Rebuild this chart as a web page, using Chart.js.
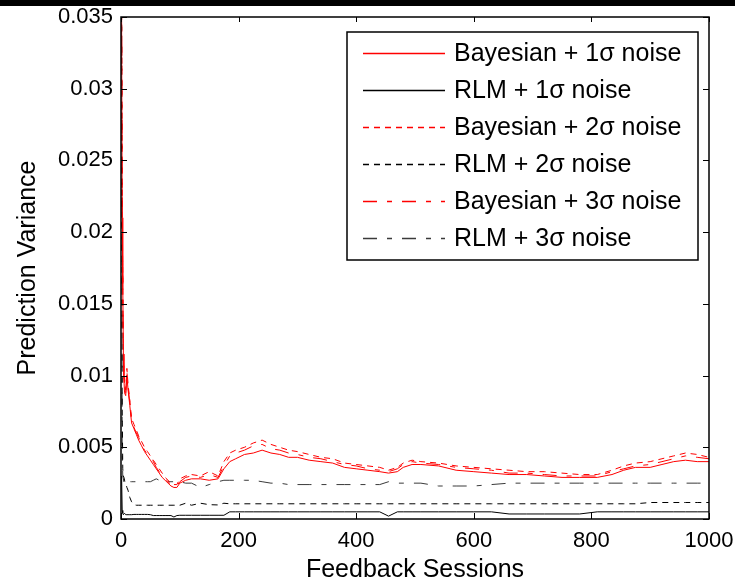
<!DOCTYPE html>
<html lang="en">
<head>
<meta charset="UTF-8">
<title>Prediction Variance vs Feedback Sessions</title>
<script src="https://cdn.jsdelivr.net/npm/chart.js"></script>
<style>
  html, body { margin: 0; padding: 0; background: #fff; }
</style>
</head>
<body>
<canvas id="chart" width="735" height="588"></canvas>
<script>
const sessions = [1, 2, 3, 4, 5, 6, 8, 10, 12, 15,
  18, 22, 26, 30, 35, 40, 45, 50, 55, 60,
  65, 70, 75, 80, 85, 90, 95, 100, 110, 120,
  135, 150, 165, 175, 185, 195, 210, 225, 240, 255,
  270, 285, 300, 320, 340, 360, 380, 400, 420, 440,
  455, 470, 480, 495, 510, 540, 570, 600, 630, 660,
  690, 720, 750, 780, 810, 835, 855, 875, 900, 920,
  940, 960, 980, 1000];

const bayes1 = [0.036, 0.021, 0.0165, 0.0115, 0.0098, 0.0088, 0.0086, 0.0100, 0.0090, 0.0079,
  0.0067, 0.0063, 0.0059, 0.0055, 0.0051, 0.0047, 0.0044, 0.0041, 0.0038, 0.0035,
  0.0032, 0.0029, 0.0027, 0.0025, 0.0023, 0.0022, 0.0022, 0.0025, 0.0027, 0.0028,
  0.0028, 0.0027, 0.0028, 0.0035, 0.0040, 0.0042, 0.0045, 0.0046, 0.0048, 0.0046,
  0.0045, 0.0043, 0.0043, 0.0041, 0.0040, 0.0039, 0.0036, 0.0035, 0.0034, 0.0033,
  0.0032, 0.0033, 0.0036, 0.0038, 0.0038, 0.0037, 0.0034, 0.0033, 0.0032, 0.0031,
  0.0031, 0.0030, 0.0029, 0.0029, 0.0029, 0.0031, 0.0034, 0.0036, 0.0036, 0.0038,
  0.0040, 0.0041, 0.0040, 0.0040];

const rlm1 = [0.0030, 0.0006, 0.0004, 0.0003, 0.0003, 0.0004, 0.0003, 0.0003, 0.0003, 0.0003,
  0.0003, 0.00032, 0.00032, 0.00032, 0.00032, 0.00032, 0.00032, 0.0003, 0.00024, 0.00024,
  0.00024, 0.00024, 0.00024, 0.00024, 0.00024, 0.00014, 0.00024, 0.00026, 0.00026, 0.00026,
  0.00026, 0.00026, 0.00026, 0.00026, 0.0005, 0.0005, 0.0005, 0.0005, 0.0005, 0.0005,
  0.0005, 0.0005, 0.0005, 0.0005, 0.0005, 0.0005, 0.0005, 0.0005, 0.0005, 0.0005,
  0.0002, 0.0005, 0.0005, 0.0005, 0.0005, 0.0005, 0.0005, 0.0005, 0.0005, 0.00035,
  0.00035, 0.00035, 0.00035, 0.00035, 0.0005, 0.0005, 0.0005, 0.0005, 0.0005, 0.0005,
  0.0005, 0.0005, 0.0005, 0.0005];

const bayes2 = [0.036, 0.022, 0.017, 0.012, 0.0105, 0.0092, 0.0090, 0.0105, 0.0094, 0.0083,
  0.0070, 0.0066, 0.0062, 0.0058, 0.0054, 0.0050, 0.0047, 0.0044, 0.0041, 0.0038,
  0.0035, 0.0032, 0.0029, 0.0027, 0.0025, 0.0024, 0.0024, 0.0028, 0.0030, 0.0031,
  0.0030, 0.0033, 0.0030, 0.0040, 0.0046, 0.0048, 0.0050, 0.0053, 0.0055, 0.0052,
  0.0050, 0.0048, 0.0047, 0.0045, 0.0043, 0.0042, 0.0039, 0.0038, 0.0037, 0.0036,
  0.0034, 0.0036, 0.0039, 0.0041, 0.0040, 0.0039, 0.0037, 0.0036, 0.0035, 0.0034,
  0.0033, 0.0033, 0.0032, 0.0031, 0.0031, 0.0034, 0.0037, 0.0039, 0.0040, 0.0042,
  0.0044, 0.0046, 0.0045, 0.0043];

const rlm2 = [0.036, 0.008, 0.0035, 0.0030, 0.0029, 0.0027, 0.0025, 0.0022, 0.0020, 0.0015,
  0.0012, 0.0010, 0.00096, 0.00096, 0.00096, 0.00096, 0.00096, 0.00096, 0.00096, 0.00096,
  0.00096, 0.00096, 0.00096, 0.00096, 0.00096, 0.00096, 0.00096, 0.00096, 0.0011, 0.00096,
  0.0011, 0.0010, 0.00098, 0.0011, 0.00106, 0.00106, 0.00106, 0.00106, 0.00106, 0.00106,
  0.00106, 0.00106, 0.00106, 0.00106, 0.00106, 0.00106, 0.00106, 0.00106, 0.00106, 0.00106,
  0.00106, 0.00106, 0.00106, 0.00106, 0.00106, 0.00106, 0.00106, 0.00106, 0.00106, 0.00106,
  0.00106, 0.00106, 0.00106, 0.00106, 0.00106, 0.00106, 0.00106, 0.00106, 0.00115, 0.00115,
  0.00115, 0.00115, 0.00115, 0.00115];

const bayes3 = [0.036, 0.0215, 0.0168, 0.0118, 0.0100, 0.0090, 0.0088, 0.0103, 0.0092, 0.0081,
  0.0068, 0.0064, 0.0060, 0.0057, 0.0052, 0.0048, 0.0045, 0.0043, 0.0040, 0.0036,
  0.0033, 0.0030, 0.0028, 0.0026, 0.0024, 0.0023, 0.0023, 0.0026, 0.0029, 0.0030,
  0.0029, 0.0031, 0.0029, 0.0037, 0.0044, 0.0046, 0.0048, 0.0051, 0.0052, 0.0049,
  0.0048, 0.0046, 0.0045, 0.0043, 0.0042, 0.0040, 0.0038, 0.0037, 0.0035, 0.0034,
  0.0033, 0.0035, 0.0038, 0.0040, 0.0039, 0.0038, 0.0036, 0.0035, 0.0034, 0.0032,
  0.0032, 0.0031, 0.0030, 0.0030, 0.0030, 0.0033, 0.0035, 0.0037, 0.0038, 0.0040,
  0.0042, 0.0044, 0.0043, 0.0042];

const rlm3 = [0.036, 0.0048, 0.0030, 0.0028, 0.0026, 0.0029, 0.0027, 0.0026, 0.0026, 0.0026,
  0.0026, 0.0026, 0.0026, 0.0026, 0.0026, 0.0026, 0.0026, 0.0026, 0.0027, 0.0028,
  0.0027, 0.0027, 0.0026, 0.0026, 0.0026, 0.0026, 0.0026, 0.0026, 0.0025, 0.0025,
  0.0022, 0.0024, 0.0026, 0.0027, 0.0027, 0.0027, 0.0027, 0.0027, 0.0026, 0.0025,
  0.0025, 0.0024, 0.0024, 0.0024, 0.0024, 0.0024, 0.0024, 0.0024, 0.0024, 0.0024,
  0.0026, 0.0025, 0.0025, 0.0025, 0.0025, 0.0023, 0.0023, 0.0023, 0.0024, 0.0025,
  0.0025, 0.0025, 0.0025, 0.0025, 0.0025, 0.0025, 0.0025, 0.0025, 0.0025, 0.0025,
  0.0025, 0.0025, 0.0025, 0.0025];

const seriesNames = ['Bayesian + 1σ noise', 'RLM + 1σ noise', 'Bayesian + 2σ noise',
  'RLM + 2σ noise', 'Bayesian + 3σ noise', 'RLM + 3σ noise'];

const xTicks = [0, 200, 400, 600, 800, 1000];
const xTickLabels = ['0', '200', '400', '600', '800', '1000'];
const yTicks = [0, 0.005, 0.01, 0.015, 0.02, 0.025, 0.03, 0.035];
const yTickLabels = ['0', '0.005', '0.01', '0.015', '0.02', '0.025', '0.03', '0.035'];

const FONT = "'Liberation Sans', Arial, sans-serif";
const RED = '#ff0000';
const GREY = '#3a3a3a';
const DASH = [6, 5];
const DASHDOT = [14, 10, 5, 10];
const colors = [RED, '#000', RED, '#000', RED, GREY];
const dashes = [[], [], DASH, DASH, DASHDOT, DASHDOT];

function line(i, data) {
  return {
    label: seriesNames[i], data: data, borderColor: colors[i], borderDash: dashes[i],
    borderWidth: 1, pointRadius: 0, tension: 0, fill: false
  };
}

// white page, frame with inward ticks, legend box and the black strip on top
const decoPlugin = {
  id: 'deco',
  beforeDraw(chart) {
    const c = chart.ctx;
    c.save();
    c.fillStyle = '#fff';
    c.fillRect(0, 0, chart.width, chart.height);
    c.restore();
  },
  afterDatasetsDraw(chart) {
    const c = chart.ctx;
    const a = chart.chartArea;
    const xs = chart.scales.x, ys = chart.scales.y;
    c.save();
    c.strokeStyle = '#000';
    c.lineWidth = 1.5;
    c.setLineDash([]);
    c.strokeRect(a.left, a.top, a.right - a.left, a.bottom - a.top);
    c.lineWidth = 1;
    c.beginPath();
    xTicks.forEach(v => {
      const px = Math.round(xs.getPixelForValue(v)) + 0.5;
      c.moveTo(px, a.bottom); c.lineTo(px, a.bottom - 6);
      c.moveTo(px, a.top); c.lineTo(px, a.top + 5);
    });
    yTicks.forEach(v => {
      const py = Math.round(ys.getPixelForValue(v)) + 0.5;
      c.moveTo(a.left, py); c.lineTo(a.left + 6, py);
      c.moveTo(a.right, py); c.lineTo(a.right - 6, py);
    });
    c.stroke();

    // legend
    const bx = a.right - 362, by = a.top + 15, bw = 351, bh = 228;
    c.fillStyle = '#fff';
    c.fillRect(bx, by, bw, bh);
    c.lineWidth = 1.5;
    c.strokeStyle = '#000';
    c.strokeRect(bx, by, bw, bh);
    c.font = '25px ' + FONT;
    c.textBaseline = 'middle';
    c.textAlign = 'left';
    seriesNames.forEach((name, i) => {
      const yy = Math.round(by + 21 + i * 37) + 0.5;
      c.beginPath();
      c.lineWidth = 1.5;
      c.strokeStyle = colors[i];
      c.setLineDash(dashes[i]);
      c.moveTo(bx + 16, yy);
      c.lineTo(bx + 98, yy);
      c.stroke();
      c.setLineDash([]);
      c.fillStyle = '#000';
      c.fillText(name, bx + 107, yy + 1);
    });

    c.fillStyle = '#000';
    c.fillRect(0, 0, chart.width, 6);
    c.restore();
  }
};

new Chart(document.getElementById('chart').getContext('2d'), {
  type: 'line',
  data: {
    labels: sessions,
    datasets: [
      line(0, bayes1),
      line(1, rlm1),
      line(2, bayes2),
      line(3, rlm2),
      line(4, bayes3),
      line(5, rlm3)
    ]
  },
  options: {
    responsive: false,
    animation: false,
    devicePixelRatio: 1,
    layout: { padding: { left: 0, right: 26, top: 17, bottom: 0 } },
    plugins: { legend: { display: false }, tooltip: { enabled: false } },
    scales: {
      x: {
        type: 'linear', min: 0, max: 1000,
        // tick marks hidden; tickLength only keeps the labels off the axis
        grid: { display: false, drawTicks: true, tickLength: 9 },
        border: { display: false },
        afterBuildTicks: s => { s.ticks = xTicks.map(v => ({ value: v })); },
        afterFit: s => { s.height = 69; },
        ticks: { color: '#000', padding: 0, maxRotation: 0, font: { family: FONT, size: 22 },
          callback: (v, i) => xTickLabels[i] },
        title: { display: true, text: 'Feedback Sessions', color: '#000',
          font: { family: FONT, size: 25 }, padding: { top: 0, bottom: 3 } }
      },
      y: {
        type: 'linear', min: 0, max: 0.035,
        grid: { display: false, drawTicks: true, tickLength: 8 },
        border: { display: false },
        afterBuildTicks: s => { s.ticks = yTicks.map(v => ({ value: v })); },
        afterFit: s => { s.width = 121; },
        ticks: { color: '#000', padding: 0, font: { family: FONT, size: 22 },
          callback: (v, i) => yTickLabels[i] },
        title: { display: true, text: 'Prediction Variance', color: '#000',
          font: { family: FONT, size: 25 }, padding: { top: 13, bottom: 0 } }
      }
    }
  },
  plugins: [decoPlugin]
});
</script>
</body>
</html>
